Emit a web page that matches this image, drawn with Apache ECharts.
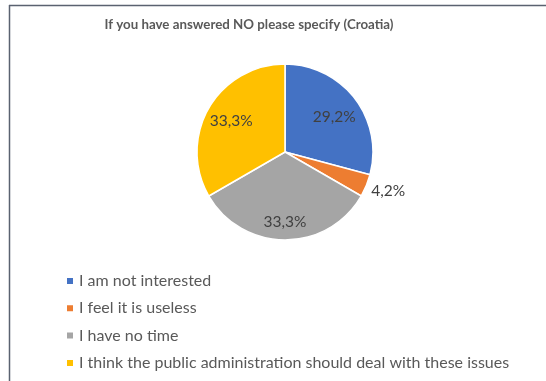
<!DOCTYPE html>
<html><head><meta charset="utf-8">
<script src="https://cdn.jsdelivr.net/npm/echarts@6/dist/echarts.min.js"></script>
<style>html,body{margin:0;padding:0;background:#fff}#c{width:546px;height:381px}</style>
</head><body><div id="c"></div>
<script>
const titleText = 'If you have answered NO please specify (Croatia)';
const categories = ['I am not interested', 'I feel it is useless', 'I have no time', 'I think the public administration should deal with these issues'];
const counts = [7, 1, 8, 8];
const colors = ['#4472C4', '#ED7D31', '#A5A5A5', '#FFC000'];
const FONT = 'Lato, "Open Sans", sans-serif';

const total = counts.reduce((a, b) => a + b, 0);
const fmt = v => (v / total * 100).toFixed(1).replace('.', ',') + '%';

const chart = echarts.init(document.getElementById('c'));
chart.setOption({
  animation: false,
  title: {
    text: titleText, left: 249, top: 18, textAlign: 'center', padding: 0,
    textStyle: { fontFamily: FONT, fontSize: 13.3, fontWeight: 'bold', color: '#595959' }
  },
  legend: {
    orient: 'vertical', left: 65, top: 272, icon: 'rect', itemWidth: 8, itemHeight: 8, itemGap: 9.3, padding: 0,
    data: categories,
    textStyle: { fontFamily: FONT, fontSize: 16, color: '#595959', lineHeight: 18 }
  },
  graphic: [
    { type: 'line', shape: { x1: 9, y1: 5.5, x2: 546, y2: 5.5 }, style: { stroke: '#5a6270', lineWidth: 1.5 } },
    { type: 'line', shape: { x1: 9.5, y1: 5, x2: 9.5, y2: 381 }, style: { stroke: '#5a6270', lineWidth: 1.5 } }
  ],
  series: [
    {
      type: 'pie', center: [285, 152], radius: 88, startAngle: 90, clockwise: true,
      label: { show: false }, labelLine: { show: false }, silent: true,
      itemStyle: { borderColor: '#fff', borderWidth: 1.5 },
      data: categories.map((n, i) => ({ name: n, value: counts[i], itemStyle: { color: colors[i] } }))
    },
    {
      type: 'pie', center: [285, 152], radius: [30, 88], startAngle: 90, clockwise: true, silent: true,
      itemStyle: { color: 'rgba(0,0,0,0)' },
      label: { show: true, position: 'inside', fontFamily: FONT, fontSize: 15.5, color: '#404040',
        formatter: p => fmt(p.value) },
      labelLine: { show: false },
      labelLayout: p => p.dataIndex === 2 ? { dy: 8 } : (p.dataIndex === 1 ? { dy: 5 } : (p.dataIndex === 0 ? { dy: 3 } : {})),
      data: categories.map((n, i) => ({
        name: n, value: counts[i],
        label: i === 1 ? { position: 'outside', color: '#404040' } : undefined,
        labelLine: i === 1 ? { show: false, length: 0, length2: 0 } : undefined
      }))
    }
  ]
});
</script></body></html>
